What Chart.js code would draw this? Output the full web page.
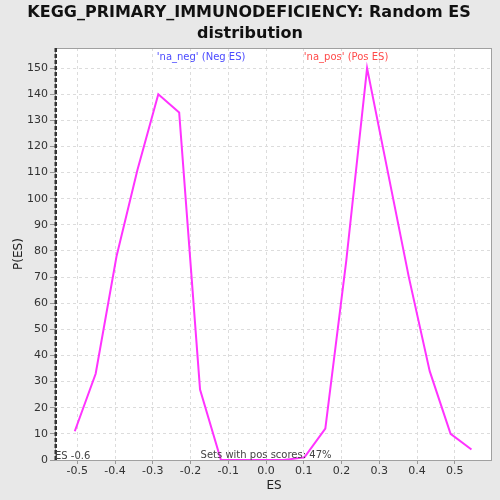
<!DOCTYPE html>
<html><head><meta charset="utf-8">
<script src="https://cdn.jsdelivr.net/npm/chart.js@4"></script>
<style>html,body{margin:0;padding:0;background:#e8e8e8;}#c{display:block;}</style>
</head><body>
<canvas id="c" width="500" height="500"></canvas>
<script>
const esValues = [-0.5066,-0.4513,-0.3960,-0.3407,-0.2854,-0.2301,-0.1748,-0.1195,-0.0642,-0.0089,0.0464,0.1017,0.1570,0.2123,0.2676,0.3229,0.3782,0.4335,0.4888,0.5441];
const counts   = [11,33,78,111,140,133,27,0,0,0,0,1,12,76,150,110,70,34,10,4];
const xTicks = [-0.5,-0.4,-0.3,-0.2,-0.1,0,0.1,0.2,0.3,0.4,0.5];
const yTicks = [0,10,20,30,40,50,60,70,80,90,100,110,120,130,140,150];
const observedES = -0.557;
const titleLines = ["KEGG_PRIMARY_IMMUNODEFICIENCY: Random ES", "distribution"];
const negLabel = "'na_neg' (Neg ES)";
const posLabel = "'na_pos' (Pos ES)";
const esLabel = "ES -0.6";
const posScoreLabel = "Sets with pos scores: 47%";

const pts = esValues.map((x,i)=>({x:x,y:counts[i]}));

const deco = {
  id:'deco',
  beforeDraw(chart){
    const ctx=chart.ctx, a=chart.chartArea;
    ctx.save();
    ctx.fillStyle='#e8e8e8'; ctx.fillRect(0,0,chart.width,chart.height);
    ctx.fillStyle='#ffffff'; ctx.fillRect(a.left,a.top,a.right-a.left,a.bottom-a.top);
    ctx.restore();
  },
  afterDatasetsDraw(chart){
    const ctx=chart.ctx, a=chart.chartArea, xs=chart.scales.x;
    ctx.save();
    ctx.strokeStyle='#a0a0a0'; ctx.lineWidth=1;
    ctx.strokeRect(a.left+0.5,a.top+0.5,a.right-a.left-1,a.bottom-a.top);
    const px=xs.getPixelForValue(observedES);
    ctx.strokeStyle='#333'; ctx.lineWidth=2.5; ctx.setLineDash([4,2]);
    ctx.beginPath(); ctx.moveTo(px,a.top); ctx.lineTo(px,a.bottom); ctx.stroke();
    ctx.setLineDash([]);
    ctx.font='10px "DejaVu Sans"'; ctx.textBaseline='middle'; ctx.textAlign='center';
    ctx.fillStyle='#4a4aff'; ctx.fillText(negLabel, xs.getPixelForValue(-0.172), a.top+9);
    ctx.fillStyle='#ff4a4a'; ctx.fillText(posLabel, xs.getPixelForValue(0.212), a.top+9);
    ctx.fillStyle='#444'; ctx.textAlign='left';
    ctx.fillText(esLabel, a.left+0, a.bottom-4);
    ctx.textAlign='center';
    ctx.fillText(posScoreLabel, xs.getPixelForValue(0.0), a.bottom-5);
    ctx.fillStyle='#111'; ctx.font='bold 16px "DejaVu Sans"';
    ctx.fillText(titleLines[0], 249, 13);
    ctx.fillText(titleLines[1], 250, 34);
    ctx.font='12px "DejaVu Sans"'; ctx.fillStyle='#222';
    ctx.fillText('ES', xs.getPixelForValue(0.0)+8, 486);
    ctx.translate(19,254); ctx.rotate(-Math.PI/2); ctx.fillText('P(ES)',0,0);
    ctx.restore();
  }
};

new Chart(document.getElementById('c'), {
  type:'scatter',
  data:{datasets:[{data:pts, showLine:true, borderColor:'#ff33ff', backgroundColor:'#ff33ff', borderWidth:2, pointRadius:0, tension:0}]},
  options:{
    responsive:false, animation:false, devicePixelRatio:1,
    layout:{padding:{top:48,right:8,left:0,bottom:0}},
    plugins:{legend:{display:false}, tooltip:{enabled:false}, title:{display:false}},
    scales:{
      x:{type:'linear', min:-0.559, max:0.5985,
        afterBuildTicks(s){ s.ticks = xTicks.map(v=>({value:v})); },
        afterFit(s){ s.height=40; },
        ticks:{callback:v=>v.toFixed(1), font:{family:'DejaVu Sans', size:11}, color:'#333', padding:1, maxRotation:0, autoSkip:false},
        grid:{color:'#dcdcdc', tickColor:'#999', tickLength:4, drawTicks:true},
        border:{display:false, dash:[3,3]}
      },
      y:{type:'linear', min:0, max:157.7,
        afterBuildTicks(s){ s.ticks = yTicks.map(v=>({value:v})); },
        afterFit(s){ s.width=55; },
        ticks:{font:{family:'DejaVu Sans', size:11}, color:'#333', padding:2, autoSkip:false},
        grid:{color:'#dcdcdc', tickColor:'#999', tickLength:5, drawTicks:true},
        border:{display:false, dash:[3,3]}
      }
    }
  },
  plugins:[deco]
});
</script>
</body></html>
